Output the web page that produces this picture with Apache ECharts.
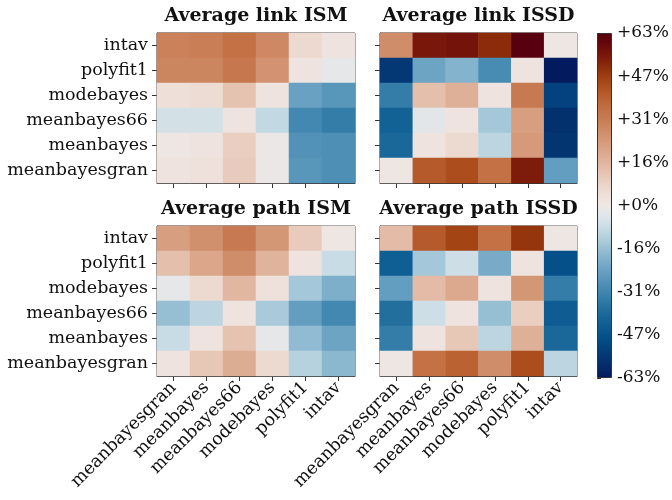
<!DOCTYPE html>
<html>
<head>
<meta charset="utf-8">
<script src="https://cdn.jsdelivr.net/npm/echarts@6/dist/echarts.min.js"></script>
<style>
  html, body { margin: 0; padding: 0; background: #fff; }
  #chart { width: 672px; height: 500px; }
</style>
</head>
<body>
<div id="chart"></div>
<script>
// Column (x) categories, left to right
const xCategories = ['meanbayesgran', 'meanbayes', 'meanbayes66', 'modebayes', 'polyfit1', 'intav'];
// Row (y) categories, top to bottom
const yCategoriesTopDown = ['intav', 'polyfit1', 'modebayes', 'meanbayes66', 'meanbayes', 'meanbayesgran'];

// Relative differences in percent; each row follows yCategoriesTopDown, columns follow xCategories
const linkISM = [
  [30, 31, 35, 28, 6, 2],
  [29, 29, 33, 25, 2, -2],
  [4, 5, 12, 2, -24, -27],
  [-6, -6, 2, -9, -31, -34],
  [1, 2, 9, -1, -28, -29],
  [2, 3, 10, -1, -27, -29]
];
const linkISSD = [
  [27, 55, 56, 51, 63, 1],
  [-55, -23, -19, -30, 2, -63],
  [-34, 13, 17, 2, 32, -52],
  [-42, -3, 2, -14, 22, -57],
  [-40, 2, 6, -10, 23, -56],
  [1, 41, 44, 35, 54, -25]
];
const pathISM = [
  [22, 26, 32, 24, 10, 1],
  [13, 20, 27, 16, 2, -8],
  [-2, 6, 15, 3, -14, -20],
  [-16, -10, 2, -13, -25, -31],
  [-8, 2, 12, -2, -17, -23],
  [2, 11, 18, 6, -11, -18]
];
const pathISSD = [
  [14, 41, 46, 35, 49, 1],
  [-43, -14, -7, -21, 2, -48],
  [-25, 14, 19, 2, 24, -34],
  [-38, -7, 2, -16, 9, -44],
  [-34, 2, 11, -10, 17, -40],
  [1, 35, 39, 27, 44, -10]
];

const panelTitles = ['Average link ISM', 'Average link ISSD', 'Average path ISM', 'Average path ISSD'];
const colorbarTicks = ['-63%', '-47%', '-31%', '-16%', '+0%', '+16%', '+31%', '+47%', '+63%'];
const colorLimit = 63;

// Diverging blue - off-white - brown palette, evenly spaced from -63 to +63
const palette = [
  '#031a5e', '#042968', '#033874', '#034580', '#07528b', '#0f5e93', '#1c6a9b', '#2d78a5',
  '#4086af', '#5594b9', '#6aa2c3', '#80b0cb', '#99c0d5', '#b2cfdd', '#c9dce5', '#dfe6ea',
  '#eee8e5',
  '#eedfd8', '#ebd3c7', '#e6c4b2', '#e0b49e', '#dba78b', '#d59878', '#cf8b66', '#c87c53',
  '#c27043', '#ba6131', '#ae5020', '#9e3e10', '#8a2a0a', '#78160a', '#66080c', '#580010'
];

const FONT = 'DejaVu Serif';
const AXIS_COLOR = '#333';
const LABEL_SIZE = 17.5;
const yCategories = yCategoriesTopDown.slice().reverse();

function toCells(matrix) {
  const cells = [];
  matrix.forEach((row, r) => {
    const yi = yCategoriesTopDown.length - 1 - r;
    row.forEach((v, c) => cells.push([c, yi, v]));
  });
  return cells;
}

const panels = [
  { left: 157, top: 33, width: 198, height: 150, data: linkISM, xLabels: false, yLabels: true },
  { left: 380, top: 33, width: 197, height: 150, data: linkISSD, xLabels: false, yLabels: false },
  { left: 157, top: 226, width: 198, height: 150, data: pathISM, xLabels: true, yLabels: true },
  { left: 380, top: 226, width: 197, height: 150, data: pathISSD, xLabels: true, yLabels: false }
];

const grid = [], xAxis = [], yAxis = [], series = [], graphic = [];
panels.forEach((p, i) => {
  grid.push({ left: p.left, top: p.top, width: p.width, height: p.height,
    show: true, borderColor: AXIS_COLOR, borderWidth: 1, backgroundColor: 'transparent' });
  xAxis.push({
    type: 'category', gridIndex: i, data: xCategories,
    axisLine: { show: true, lineStyle: { color: AXIS_COLOR, width: 1 } },
    axisTick: { show: true, alignWithLabel: true, length: 5, lineStyle: { color: AXIS_COLOR } },
    axisLabel: { show: p.xLabels, rotate: 45, interval: 0, margin: 9,
      fontFamily: FONT, fontSize: LABEL_SIZE, color: '#111' },
    splitLine: { show: false }
  });
  yAxis.push({
    type: 'category', gridIndex: i, data: yCategories,
    axisLine: { show: true, lineStyle: { color: AXIS_COLOR, width: 1 } },
    axisTick: { show: true, alignWithLabel: true, length: 5, lineStyle: { color: AXIS_COLOR } },
    axisLabel: { show: p.yLabels, interval: 0, margin: 9,
      fontFamily: FONT, fontSize: LABEL_SIZE, color: '#111' },
    splitLine: { show: false }
  });
  series.push({
    type: 'heatmap', xAxisIndex: i, yAxisIndex: i, data: toCells(p.data),
    itemStyle: { borderWidth: 0 }, emphasis: { disabled: true }
  });
  graphic.push({
    type: 'text', x: p.left + p.width / 2, y: p.top - 26, z: 10,
    style: { text: panelTitles[i], font: 'bold 19px "' + FONT + '"', fill: '#111',
      align: 'center', verticalAlign: 'top' }
  });
});

// Colorbar scale axis
const cb = { left: 597, top: 33, width: 15, height: 345 };
grid.push({ left: cb.left, top: cb.top, width: cb.width, height: cb.height, show: false });
xAxis.push({ type: 'value', gridIndex: 4, show: false, min: 0, max: 1 });
yAxis.push({
  type: 'value', gridIndex: 4, position: 'right',
  min: -colorLimit, max: colorLimit, interval: colorLimit / 4,
  axisLine: { show: false },
  axisTick: { show: true, length: 4, lineStyle: { color: AXIS_COLOR } },
  splitLine: { show: false },
  axisLabel: {
    margin: 5, fontFamily: FONT, fontSize: 17, color: '#111',
    formatter: (v) => colorbarTicks[Math.round((v + colorLimit) / (colorLimit / 4))]
  }
});
graphic.push({
  type: 'rect', z: 100,
  shape: { x: cb.left + 0.5, y: cb.top + 0.5, width: cb.width - 1, height: cb.height - 1 },
  style: { fill: 'none', stroke: AXIS_COLOR, lineWidth: 1 }
});

const chart = echarts.init(document.getElementById('chart'), null, { renderer: 'canvas' });
chart.setOption({
  animation: false,
  backgroundColor: '#fff',
  grid, xAxis, yAxis, series, graphic,
  visualMap: {
    type: 'continuous', min: -colorLimit, max: colorLimit,
    seriesIndex: [0, 1, 2, 3], calculable: false, hoverLink: false,
    left: cb.left, top: cb.top, itemWidth: cb.width, itemHeight: cb.height,
    padding: 0, text: null, showLabel: false,
    inRange: { color: palette }
  }
});
</script>
</body>
</html>
